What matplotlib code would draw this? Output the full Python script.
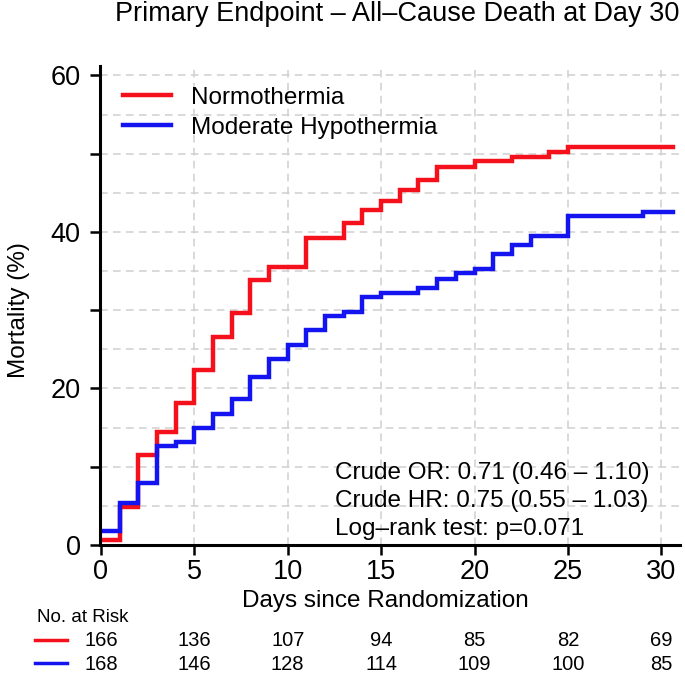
import matplotlib
matplotlib.use("Agg")
import matplotlib.pyplot as plt
import matplotlib.transforms as mtransforms
from matplotlib.lines import Line2D

plt.rcParams['font.family'] = ['Liberation Sans', 'DejaVu Sans']

# step curves (day, cumulative mortality %)
normo_days = [0, 1, 2, 3, 4, 5, 6, 7, 8, 9, 11, 13, 14, 15, 16, 17, 18, 20, 22, 24, 25, 30.6]
normo_mort = [0.6, 4.9, 11.5, 14.5, 18.1, 22.3, 26.6, 29.6, 33.8, 35.5, 39.2, 41.1, 42.8,
              44.0, 45.3, 46.6, 48.3, 49.0, 49.6, 50.2, 50.8, 50.8]
hypo_days = [0, 1, 2, 3, 4, 5, 6, 7, 8, 9, 10, 11, 12, 13, 14, 15, 17, 18, 19, 20, 21, 22,
             23, 25, 29, 30.6]
hypo_mort = [1.8, 5.4, 7.9, 12.7, 13.1, 15.0, 16.7, 18.6, 21.5, 23.8, 25.6, 27.5, 29.3,
             29.8, 31.7, 32.2, 32.8, 34.0, 34.7, 35.2, 37.2, 38.3, 39.5, 42.0, 42.6, 42.6]

risk_days = [0, 5, 10, 15, 20, 25, 30]
risk_normo = [166, 136, 107, 94, 85, 82, 69]
risk_hypo = [168, 146, 128, 114, 109, 100, 85]

stats_lines = ["Crude OR: 0.71 (0.46 \u2013 1.10)",
               "Crude HR: 0.75 (0.55 \u2013 1.03)",
               "Log\u2013rank test: p=0.071"]

red = '#f5111b'
blue = '#1414f0'

W, H = 685, 680
fig = plt.figure(figsize=(W / 100, H / 100), dpi=100)
ax = fig.add_axes([100 / W, 1 - 545 / H, 580 / W, 479 / H])

ax.step(normo_days, normo_mort, where='post', color=red, lw=3.2, label='Normothermia',
        solid_joinstyle='miter')
ax.step(hypo_days, hypo_mort, where='post', color=blue, lw=3.2, label='Moderate Hypothermia',
        solid_joinstyle='miter')

ax.set_xlim(-0.05, 31.0)
ax.set_ylim(0, 61.2)

# dashed grid every 5 units on both axes
for g in range(0, 35, 5):
    ax.axvline(g, color='#d0d0d0', lw=1.1, ls=(0, (5, 3.5)), zorder=0)
for g in range(5, 65, 5):
    ax.axhline(g, color='#d0d0d0', lw=1.1, ls=(0, (5, 3.5)), zorder=0)

ax.set_xticks(risk_days)
ax.set_yticks(range(0, 70, 10))
ax.set_yticklabels(['0', '', '20', '', '40', '', '60'])
ax.tick_params(axis='both', direction='out', length=7, width=1.8, labelsize=19.5)
ax.tick_params(axis='y', pad=7)
ax.tick_params(axis='x', pad=3)

for s in ['top', 'right']:
    ax.spines[s].set_visible(False)
for s in ['left', 'bottom']:
    ax.spines[s].set_linewidth(2.2)

leg = ax.legend(loc='upper left', bbox_to_anchor=(0.04, 0.957), frameon=False,
                fontsize=17.5, handlelength=1.95, handletextpad=0.85,
                labelspacing=0.33, borderpad=0, borderaxespad=0)

for i, line in enumerate(stats_lines):
    ax.text(0.405, [0.150, 0.092, 0.0335][i], line, transform=ax.transAxes,
            fontsize=17.5, va='center', ha='left')

fig.text(397 / W, 1 - 14 / H, "Primary Endpoint \u2013 All\u2013Cause Death at Day 30",
         fontsize=19.5, ha='center', va='center')
fig.text(19 / W, 1 - 310 / H, "Mortality (%)", fontsize=17.5, rotation=90,
         ha='center', va='center')
fig.text(385 / W, 1 - 601 / H, "Days since Randomization", fontsize=17.5,
         ha='center', va='center')

# number at risk table
fig.text(37 / W, 1 - 618 / H, "No. at Risk", fontsize=13.5, ha='left', va='center')
trans = mtransforms.blended_transform_factory(ax.transData, fig.transFigure)
for d, n1, n2 in zip(risk_days, risk_normo, risk_hypo):
    ax.text(d, 1 - 641 / H, str(n1), transform=trans, fontsize=14.5, ha='center',
            va='center', clip_on=False)
    ax.text(d, 1 - 664 / H, str(n2), transform=trans, fontsize=14.5, ha='center',
            va='center', clip_on=False)
fig.add_artist(Line2D([35 / W, 67 / W], [1 - 640 / H] * 2, color=red, lw=2.5,
                      transform=fig.transFigure))
fig.add_artist(Line2D([35 / W, 67 / W], [1 - 663 / H] * 2, color=blue, lw=2.5,
                      transform=fig.transFigure))

fig.savefig('out.png', dpi=100)
